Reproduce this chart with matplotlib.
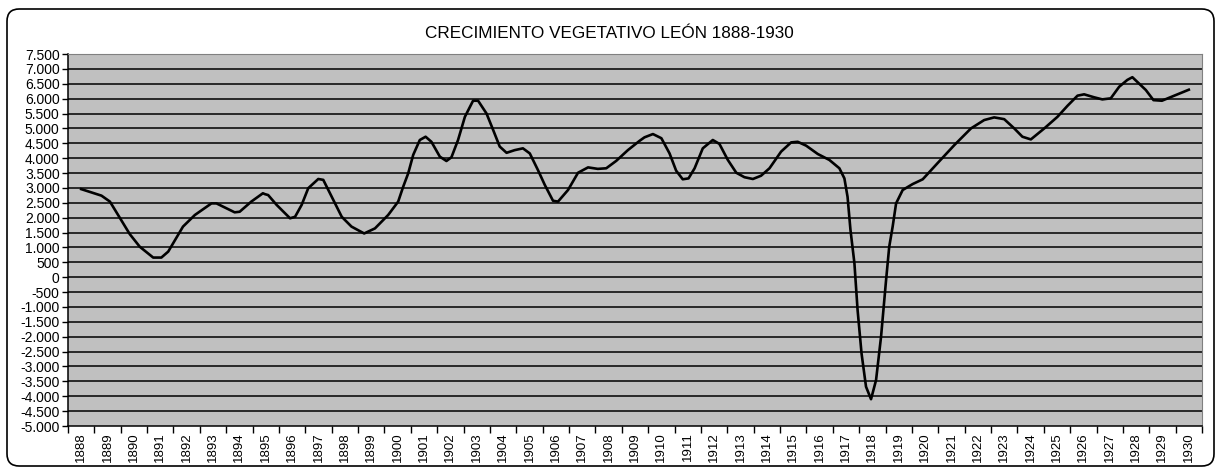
import matplotlib
matplotlib.use("Agg")
import matplotlib.pyplot as plt
from matplotlib.patches import FancyBboxPatch
from matplotlib.ticker import FuncFormatter, FixedLocator

plt.rcParams['font.family'] = ['Liberation Sans', 'DejaVu Sans']

title = "CRECIMIENTO VEGETATIVO LEÓN 1888-1930"
years = list(range(1888, 1931))

# positions in years since 1888 and values
pos = [0.00, 0.39, 0.77, 1.09, 1.40, 1.84, 2.22, 2.73, 3.04, 3.30, 3.86, 4.31,
       4.94, 5.13, 5.82, 6.01, 6.45, 6.89, 6.97, 7.09, 7.41, 7.92, 8.11, 8.36,
       8.61, 8.99, 9.18, 9.50, 9.88, 10.25, 10.73, 11.14, 11.64, 12.02, 12.21,
       12.40, 12.59, 12.84, 13.06, 13.28, 13.60, 13.85, 14.04, 14.29, 14.55,
       14.86, 15.05, 15.37, 15.62, 15.87, 16.13, 16.44, 16.75, 17.01, 17.32,
       17.58, 17.89, 18.08, 18.46, 18.84, 19.22, 19.59, 19.91, 20.29, 20.73,
       21.17, 21.36, 21.68, 22.00, 22.31, 22.56, 22.81, 23.03, 23.26, 23.57,
       23.95, 24.20, 24.52, 24.84, 25.15, 25.47, 25.78, 26.10, 26.54, 26.92,
       27.17, 27.49, 27.93, 28.37, 28.75, 28.94, 29.06, 29.17, 29.32, 29.44,
       29.59, 29.76, 29.95, 30.14, 30.33, 30.52, 30.64, 30.77, 30.90, 31.15,
       31.53, 31.91, 32.47, 33.11, 33.74, 34.24, 34.62, 35.00, 35.38, 35.69,
       36.01, 36.52, 37.02, 37.40, 37.78, 38.03, 38.41, 38.72, 39.04, 39.36,
       39.67, 39.86, 40.37, 40.66, 40.98, 42.00]
vals = [2960, 2850, 2740, 2540, 2090, 1450, 1025, 660, 660, 860, 1700, 2090,
        2480, 2480, 2180, 2200, 2540, 2820, 2790, 2760, 2430, 1980, 2030, 2430,
        2990, 3300, 3270, 2700, 2030, 1700, 1470, 1640, 2090, 2540, 3040,
        3490, 4110, 4610, 4720, 4550, 4050, 3905, 4030, 4610, 5390,
        5930, 5930, 5500, 4950, 4390, 4180, 4270, 4330, 4160, 3600,
        3100, 2570, 2540, 2930, 3510, 3690, 3640, 3660, 3910, 4270,
        4580, 4700, 4810, 4670, 4160, 3580, 3290, 3320, 3660, 4330,
        4610, 4480, 3940, 3510, 3360, 3300, 3410, 3660, 4220, 4530,
        4550, 4420, 4140, 3940, 3660, 3320, 2700, 1590, 470, -1100,
        -2560, -3680, -4100, -3460, -2000, -100, 1025, 1700, 2480, 2930,
        3130, 3290, 3830, 4440, 5000, 5280, 5370, 5310, 5000, 4720,
        4630, 5000, 5390, 5760, 6100, 6145, 6045, 5975, 6010, 6400,
        6630, 6720, 6290, 5950, 5930, 6300]

W, H = 1219, 471
fig = plt.figure(figsize=(W / 100, H / 100), dpi=100)

border = FancyBboxPatch((7 / W, 5 / H), 1207 / W, 457 / H,
                        boxstyle="round,pad=0,rounding_size=0.010",
                        transform=fig.transFigure, facecolor='none',
                        edgecolor='black', linewidth=1.2, mutation_aspect=W / H,
                        zorder=-5)
fig.patches.append(border)

ax = fig.add_axes([68 / W, 1 - 426 / H, (1202 - 68) / W, (426 - 54) / H])
ax.set_zorder(2)
ax.set_facecolor('#C0C0C0')
ax.set_xlim(-0.5, len(years) - 0.5)
ax.set_ylim(-5000, 7500)

yt = list(range(-5000, 7501, 500))
ax.set_yticks(yt)
ax.yaxis.set_major_formatter(FuncFormatter(lambda v, p: f"{int(v):,}".replace(",", ".")))
for v in yt[1:-1]:
    ax.axhline(v, color='black', linewidth=1.1, zorder=1)

ax.xaxis.set_major_locator(FixedLocator([i - 0.5 for i in range(len(years) + 1)]))
ax.xaxis.set_minor_locator(FixedLocator(list(range(len(years)))))
ax.set_xticklabels([], minor=False)
ax.set_xticklabels([str(y) for y in years], minor=True, rotation=90)
ax.tick_params(axis='x', which='major', length=5, width=1, color='black')
ax.tick_params(axis='x', which='minor', length=0, labelsize=9.5, pad=4.5)
ax.tick_params(axis='y', which='major', length=4, width=1, labelsize=10, pad=2)

ax.plot(pos, vals, color='black', linewidth=1.9, zorder=3, solid_joinstyle='round')

for s in ['top', 'right']:
    ax.spines[s].set_color('#808080')
for s in ['left', 'bottom']:
    ax.spines[s].set_color('black')
    ax.spines[s].set_linewidth(1.1)

fig.text(0.5, 1 - 33 / H, title, ha='center', va='center', fontsize=12.3)

fig.savefig('out.png', dpi=100)
